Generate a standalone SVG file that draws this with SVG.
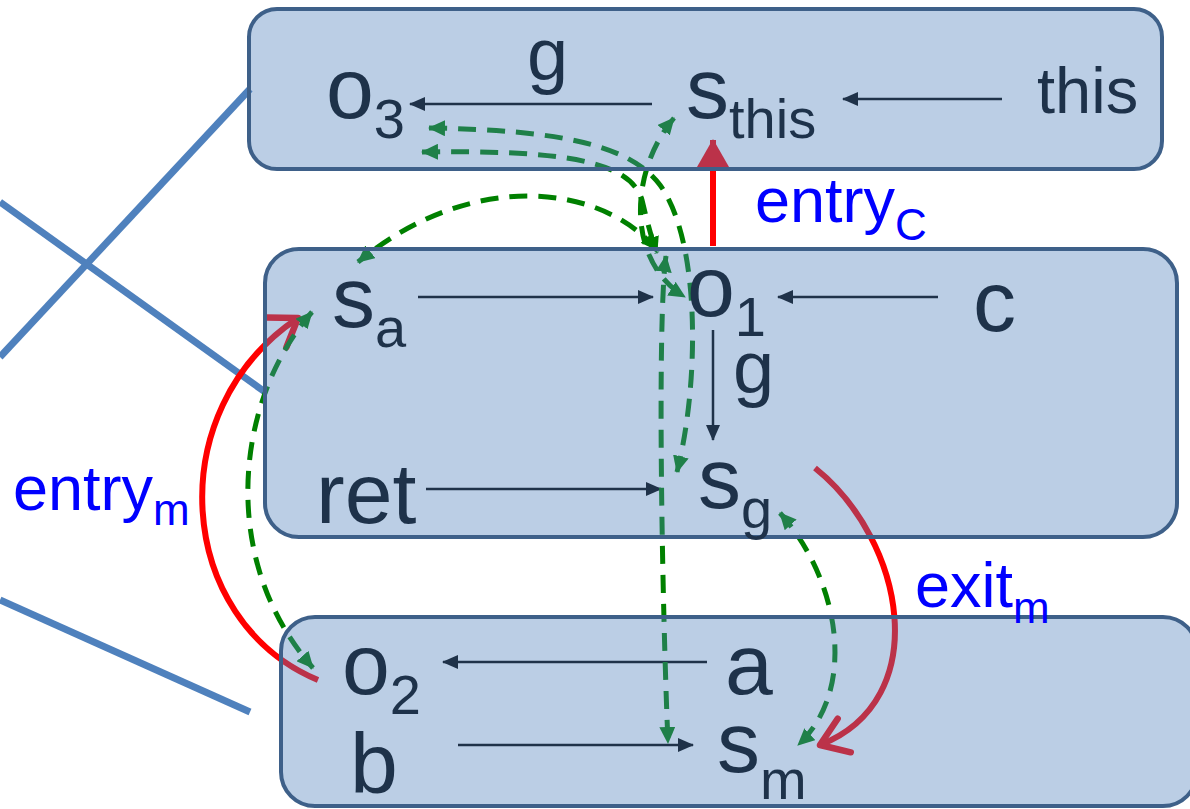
<svg xmlns="http://www.w3.org/2000/svg" width="1190" height="809" viewBox="0 0 1190 809">
  <style>
    .box { fill: #4f81bd; fill-opacity: 0.39; stroke: #3e6089; stroke-width: 4; }
    .t { font-family: "Liberation Sans", Arial, sans-serif; fill: #1e324a; }
    .main { font-size: 86px; }
    .sub { font-size: 56px; }
    .lbl { font-size: 74px; }
    .blue { font-family: "Liberation Sans", Arial, sans-serif; fill: #0000ff; font-size: 63px; }
    .bsub { font-size: 44px; }
    .edge { stroke: #000000; stroke-width: 2.5; fill: none; marker-end: url(#ah); }
    .link { stroke: #4f81bd; stroke-width: 7; fill: none; }
    .red { stroke: #ff0000; stroke-width: 6; fill: none; }
    .flow { stroke: #008000; stroke-width: 5; fill: none; stroke-dasharray: 18 11; }
    .both { marker-start: url(#gh); marker-end: url(#gh); }
  </style>
  <defs>
    <marker id="ah" viewBox="0 0 16 14" refX="15" refY="7" markerWidth="16" markerHeight="14" markerUnits="userSpaceOnUse" orient="auto">
      <path d="M0,0 L16,7 L0,14 Z" fill="#000000"/>
    </marker>
    <marker id="gh" viewBox="0 0 17 16" refX="16" refY="8" markerWidth="17" markerHeight="16" markerUnits="userSpaceOnUse" orient="auto-start-reverse">
      <path d="M0,0 L17,8 L0,16 Z" fill="#008000"/>
    </marker>
    <marker id="rh" viewBox="0 0 28 32" refX="27" refY="16" markerWidth="28" markerHeight="32" markerUnits="userSpaceOnUse" orient="auto">
      <path d="M0,0 L28,16 L0,32 Z" fill="#ff0000"/>
    </marker>
    <marker id="rc" viewBox="0 0 34 44" refX="30" refY="22" markerWidth="34" markerHeight="44" markerUnits="userSpaceOnUse" orient="auto">
      <path d="M4,4 L30,22 L4,40" fill="none" stroke="#ff0000" stroke-width="6.5" stroke-linecap="round" stroke-linejoin="round"/>
    </marker>
  </defs>

  <!-- connectors: drawn first so the translucent boxes tint them -->
  <g id="connectors">
    <!-- blue links leaving to the left -->
    <line class="link" x1="0" y1="357" x2="250" y2="89"/>
    <line class="link" x1="0" y1="202" x2="265" y2="392"/>
    <line class="link" x1="0" y1="600" x2="250" y2="712"/>

    <!-- points-to edges -->
    <line class="edge" x1="652" y1="104" x2="410" y2="104"/>
    <line class="edge" x1="1002" y1="99" x2="843" y2="99"/>
    <line class="edge" x1="418" y1="297" x2="653" y2="297"/>
    <line class="edge" x1="938" y1="297" x2="778" y2="297"/>
    <line class="edge" x1="713" y1="330" x2="713" y2="440"/>
    <line class="edge" x1="426" y1="489" x2="661" y2="489"/>
    <line class="edge" x1="707" y1="662" x2="443" y2="662"/>
    <line class="edge" x1="458" y1="745" x2="693" y2="745"/>

    <!-- call / return edges -->
    <line class="red" x1="713" y1="246" x2="713" y2="140" marker-end="url(#rh)"/>
    <path class="red" d="M318,680 C175,620 160,410 298,318" marker-end="url(#rc)"/>
    <path class="red" d="M815,468 C905,540 935,700 820,745" marker-end="url(#rc)"/>

    <!-- node correspondences -->
    <path class="flow both" d="M312,312 C235,400 218,560 313,668"/>
    <path class="flow both" d="M780,513 C840,580 858,690 798,745"/>
    <path class="flow both" d="M429,128 C560,130 630,145 660,185 C700,240 700,380 677,472"/>
    <path class="flow both" d="M674,118 C630,170 625,260 685,297"/>
    <path class="flow both" d="M422,152 C560,150 630,160 642,200 C648,225 652,240 657,253"/>
    <path class="flow both" d="M657,250 C600,182 470,170 358,262"/>
    <path class="flow both" d="M666,256 C657,320 662,600 668,743"/>
  </g>

  <g id="node-callee-c">
    <rect class="box" x="249" y="9" width="913" height="160" rx="28"/>
    <text class="t main" x="326" y="118">o<tspan class="sub" dy="20">3</tspan></text>
    <text class="t main" x="686" y="118">s<tspan class="sub" dy="20">this</tspan></text>
    <text class="t" x="1037" y="113" font-size="65">this</text>
    <text class="t lbl" x="527" y="80">g</text>
  </g>

  <g id="node-caller">
    <rect class="box" x="265" y="249" width="912" height="288" rx="34"/>
    <text class="t main" x="332" y="327">s<tspan class="sub" dy="20">a</tspan></text>
    <text class="t main" x="687" y="316">o<tspan class="sub" dy="20">1</tspan></text>
    <text class="t main" x="973" y="331">c</text>
    <text class="t lbl" x="733" y="393">g</text>
    <text class="t main" x="316" y="523">ret</text>
    <text class="t main" x="698" y="508">s<tspan class="sub" dy="20">g</tspan></text>
  </g>

  <g id="node-callee-m">
    <rect class="box" x="281" y="617" width="916" height="189" rx="34"/>
    <text class="t main" x="342" y="694">o<tspan class="sub" dy="20">2</tspan></text>
    <text class="t main" x="725" y="694">a</text>
    <text class="t main" x="350" y="793">b</text>
    <text class="t main" x="717" y="772">s<tspan class="sub" dy="27">m</tspan></text>
  </g>

  <g id="labels">
    <text class="blue" x="755" y="222">entry<tspan class="bsub" dy="18">C</tspan></text>
    <text class="blue" x="13" y="510">entry<tspan class="bsub" dy="15">m</tspan></text>
    <text class="blue" x="915" y="607">exit<tspan class="bsub" dy="16">m</tspan></text>
  </g>
</svg>
